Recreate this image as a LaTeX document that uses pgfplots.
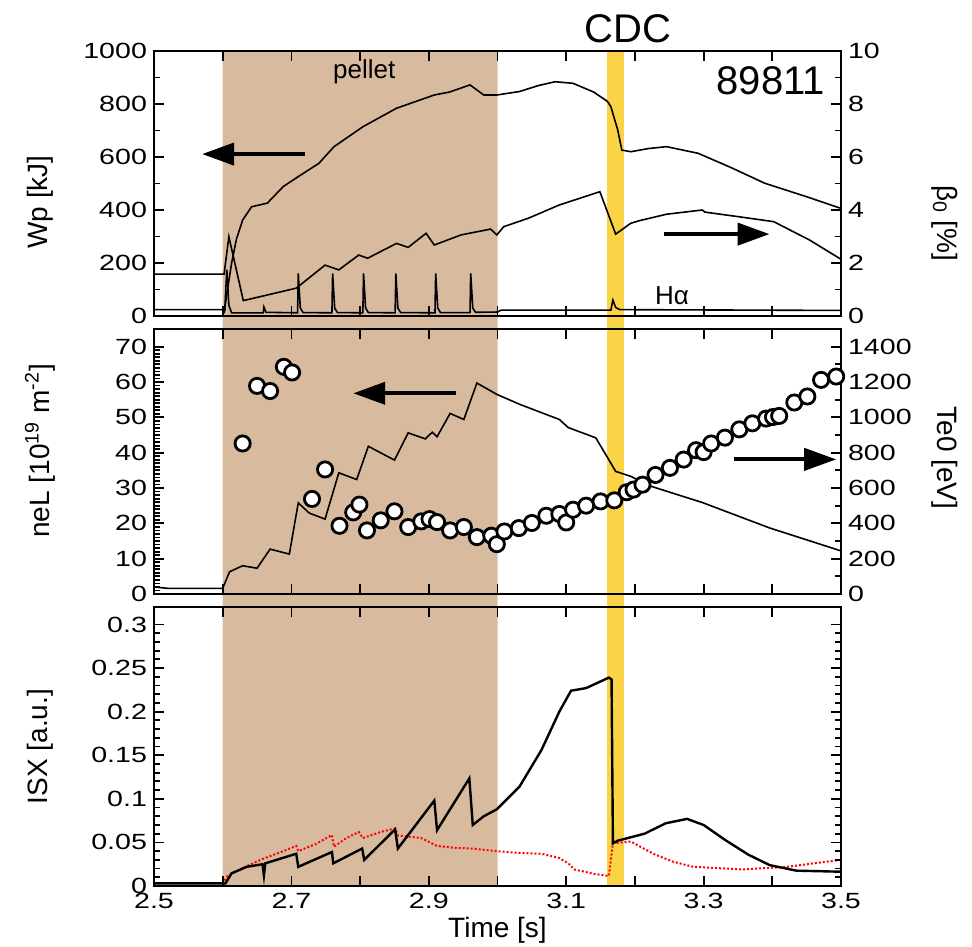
\documentclass[border=0pt]{standalone}
\usepackage{fontspec}
\setmainfont{Liberation Sans}
\newfontfamily\tickfont[FakeStretch=1.3]{Liberation Sans}
\usepackage{pgfplots}
\pgfplotsset{compat=1.18}
\usetikzlibrary{arrows.meta}
\definecolor{pellettan}{RGB}{216,186,158}
\definecolor{cdcyellow}{RGB}{250,212,70}
\tikzset{bigarrow/.style={line width=2pt, -{Triangle[length=16pt, width=11pt]}}}
\pgfplotsset{
  base/.style={
    width=343.5pt, scale only axis,
    xmin=2.5, xmax=3.5,
    xtick={2.5,2.6,2.7,2.8,2.9,3.0,3.1,3.2,3.3,3.4,3.5},
    major tick length=5pt, minor tick length=3pt,
    tick style={line width=0.9pt, black},
    axis line style={line width=1.2pt},
    tick label style={font=\tickfont\fontsize{11}{12}\selectfont},
    label style={font=\fontsize{14}{16}\selectfont},
    /pgf/number format/assume math mode=true,
    /pgf/number format/1000 sep={},
    axis on top,
  },
}
\begin{document}
\begin{tikzpicture}
\useasboundingbox (-77pt,0pt) rectangle (409pt,-473pt);
% ---------------- bottom panel (drawn first: bands span all panels)
\begin{axis}[base, at={(0pt,-443pt)}, anchor=south west, height=139.5pt,
  ymin=0, ymax=0.32, ytick={0,0.05,0.1,0.15,0.2,0.25,0.3}, minor y tick num=4,
  yticklabel style={/pgf/number format/fixed, /pgf/number format/precision=2},
  xticklabels={2.5,,2.7,,2.9,,3.1,,3.3,,3.5},
  xlabel={Time [s]}, xlabel style={at={(axis description cs:0.5,-0.158)}, anchor=center},
  ylabel={ISX [a.u.]}, ylabel style={at={(axis description cs:-0.166,0.5)}, anchor=center},
  clip=false]
\addplot[fill=pellettan, draw=none] coordinates {(2.6,0) (2.6,0.9577) (3.0,0.9577) (3.0,0)} \closedcycle;
\addplot[fill=cdcyellow, draw=none] coordinates {(3.1594,0) (3.1594,0.9577) (3.1841,0.9577) (3.1841,0)} \closedcycle;
% red dotted
\addplot[red, densely dotted, line width=1pt] coordinates {
(2.5,0.003) (2.600,0.003) (2.607,0.0115) (2.630,0.021) (2.658,0.031) (2.685,0.039) (2.707,0.046) (2.710,0.040)
(2.735,0.048) (2.759,0.0585) (2.762,0.045) (2.780,0.055) (2.798,0.062) (2.804,0.055) (2.830,0.062) (2.851,0.066)
(2.855,0.058) (2.889,0.055) (2.912,0.046) (2.935,0.044) (2.962,0.043) (2.999,0.040) (3.030,0.038) (3.064,0.037)
(3.090,0.032) (3.103,0.026) (3.112,0.019) (3.140,0.014) (3.162,0.0115) (3.168,0.049) (3.194,0.051) (3.227,0.037)
(3.255,0.028) (3.285,0.022) (3.357,0.019) (3.422,0.022) (3.46,0.026) (3.5,0.030)};
% black ISX
\addplot[black, line width=1.2pt] coordinates {
(2.5,0.003) (2.604,0.003) (2.613,0.0146) (2.635,0.022) (2.658,0.025) (2.660,0.012) (2.662,0.026) (2.707,0.037)
(2.710,0.022) (2.759,0.039) (2.761,0.026) (2.803,0.043) (2.806,0.030) (2.851,0.065) (2.855,0.043) (2.908,0.098)
(2.912,0.064) (2.959,0.1235) (2.964,0.070) (2.980,0.080) (2.999,0.088) (3.032,0.114) (3.064,0.156) (3.090,0.200)
(3.107,0.224) (3.129,0.227) (3.162,0.239) (3.166,0.237) (3.168,0.049) (3.175,0.052) (3.214,0.060) (3.245,0.072)
(3.276,0.077) (3.300,0.070) (3.331,0.053) (3.365,0.036) (3.396,0.024) (3.435,0.0176) (3.5,0.0164)};
\end{axis}
% ---------------- middle panel
\begin{axis}[base, at={(0pt,-297pt)}, anchor=south west, height=132.5pt,
  ymin=0, ymax=75, ytick={0,10,20,30,40,50,60,70}, minor y tick num=9, ytick pos=left,
  xticklabels={},
  ylabel={neL [10\textsuperscript{19} m\textsuperscript{-2}]},
  ylabel style={at={(axis description cs:-0.166,0.54)}, anchor=center}]
\addplot[black, line width=0.8pt] coordinates {
(2.5,2.0) (2.52,1.6) (2.600,1.6) (2.610,6.3) (2.629,8.0) (2.650,7.3) (2.669,12.7) (2.697,11.3) (2.710,25.8)
(2.726,22.9) (2.749,21.2) (2.769,34.3) (2.795,32.4) (2.812,41.8) (2.850,37.9) (2.870,45.6) (2.895,43.9)
(2.905,45.8) (2.912,44.5) (2.931,51.1) (2.951,49.4) (2.970,59.7) (2.999,56.5) (3.032,53.7) (3.090,49.4)
(3.103,47.1) (3.143,44.2) (3.159,39.0) (3.172,34.7) (3.194,33.3) (3.220,30.7) (3.298,25.9) (3.396,18.7) (3.5,12.2)};
\draw[bigarrow] (axis cs:2.940,56.8) -- (axis cs:2.790,56.8);
\draw[bigarrow] (axis cs:3.344,38.1) -- (axis cs:3.493,38.1);
\end{axis}
\begin{axis}[base, at={(0pt,-297pt)}, anchor=south west, height=132.5pt,
  ymin=0, ymax=1500, ytick={0,200,400,600,800,1000,1200,1400}, minor y tick num=1,
  axis y line*=right, axis x line=none,
  ylabel={Te0 [eV]}, ylabel style={at={(axis description cs:1.151,0.513)}, anchor=center, rotate=180}]
\addplot[only marks, mark=*, mark size=3.8pt, mark options={fill=white, draw=black, line width=1.4pt}] coordinates {
(2.629,852) (2.650,1178) (2.669,1149) (2.689,1286) (2.701,1254) (2.730,538) (2.749,705) (2.770,386) (2.790,462)
(2.799,506) (2.810,360) (2.830,417) (2.850,468) (2.870,379) (2.889,411) (2.901,424) (2.912,407) (2.931,360)
(2.951,379) (2.970,322) (2.991,330) (2.999,282) (3.010,354) (3.031,373) (3.050,402) (3.071,443) (3.090,453)
(3.100,405) (3.110,477) (3.129,500) (3.150,524) (3.170,530) (3.188,576) (3.198,591) (3.211,619) (3.230,674)
(3.251,714) (3.271,761) (3.289,814) (3.300,803) (3.311,852) (3.331,885) (3.352,932) (3.371,966) (3.391,993)
(3.401,1002) (3.410,1008) (3.432,1084) (3.451,1118) (3.471,1212) (3.493,1231)};
\end{axis}
% ---------------- top panel
\begin{axis}[base, at={(0pt,-158pt)}, anchor=south west, height=132.5pt,
  ymin=0, ymax=1000, ytick={0,200,400,600,800,1000}, minor y tick num=1, ytick pos=left,
  xticklabels={},
  ylabel={Wp [kJ]}, ylabel style={at={(axis description cs:-0.166,0.43)}, anchor=center},
  clip=false]
\addplot[black, line width=0.8pt] coordinates {
(2.602,10) (2.607,100) (2.613,200) (2.620,290) (2.629,362) (2.642,412) (2.665,426) (2.688,488) (2.710,526)
(2.740,576) (2.762,639) (2.804,714) (2.853,784) (2.908,834) (2.930,845) (2.960,872) (2.980,834) (2.999,834)
(3.032,847) (3.060,870) (3.084,884) (3.110,878) (3.140,845) (3.160,810) (3.165,790) (3.175,702) (3.181,626)
(3.194,620) (3.220,632) (3.246,639) (3.292,614) (3.340,560) (3.389,501) (3.45,450) (3.5,406)};
% H-alpha
\addplot[black, line width=0.8pt] coordinates {
(2.500,24) (2.600,24) (2.603,22) (2.606,175) (2.609,40) (2.613,12) (2.659,12) (2.660,34) (2.663,14)
(2.709,12) (2.710,161) (2.713,30) (2.717,13)
(2.759,12) (2.760,161) (2.763,30) (2.767,13)
(2.804,12) (2.805,161) (2.808,30) (2.812,13)
(2.851,12) (2.852,161) (2.855,30) (2.859,13)
(2.909,12) (2.910,161) (2.913,30) (2.917,13)
(2.960,13) (2.961,161) (2.964,30) (2.968,14)
(3.000,15) (3.005,22) (3.165,22) (3.168,60) (3.172,32) (3.178,24) (3.5,21)};
\node[font=\fontsize{13}{15}\selectfont] at (axis cs:2.806,921) {pellet};
\node[font=\fontsize{20}{22}\selectfont, anchor=east] at (axis cs:3.487,887) {89811};
\node[font=\fontsize{13}{15}\selectfont] at (axis cs:3.254,75) {Hα};
\node[font=\fontsize{20}{22}\selectfont] at (axis cs:3.190,1083) {CDC};
\draw[bigarrow] (axis cs:2.720,611) -- (axis cs:2.570,611);
\draw[bigarrow] (axis cs:3.243,309) -- (axis cs:3.396,309);
\end{axis}
\begin{axis}[base, at={(0pt,-158pt)}, anchor=south west, height=132.5pt,
  ymin=0, ymax=10, ytick={0,2,4,6,8,10}, minor y tick num=1,
  axis y line*=right, axis x line=none,
  ylabel={β\textsubscript{0} [\%]}, ylabel style={at={(axis description cs:1.151,0.35)}, anchor=center, rotate=180}]
\addplot[black, line width=0.8pt] coordinates {
(2.5,1.58) (2.602,1.58) (2.609,2.99) (2.630,0.58) (2.707,1.05) (2.749,1.92) (2.769,1.74) (2.798,2.30) (2.811,2.18)
(2.853,2.74) (2.870,2.59) (2.896,3.12) (2.908,2.68) (2.947,3.06) (2.990,3.28) (2.999,3.06) (3.009,3.37) (3.045,3.69)
(3.090,4.19) (3.149,4.69) (3.172,3.09) (3.194,3.50) (3.207,3.60) (3.246,3.84) (3.298,4.00) (3.302,3.92) (3.350,3.75)
(3.402,3.56) (3.454,2.87) (3.5,2.14)};
\end{axis}
\end{tikzpicture}
\end{document}
